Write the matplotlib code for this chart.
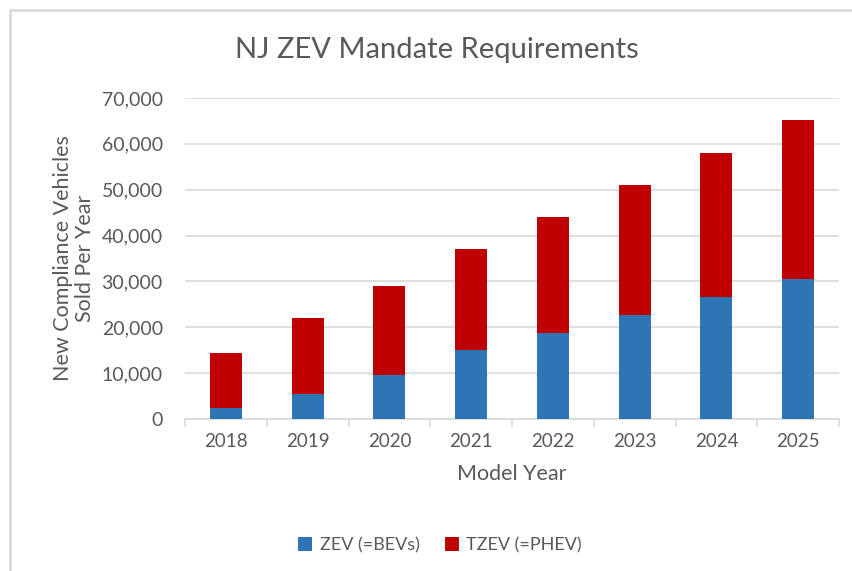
import matplotlib.pyplot as plt
import numpy as np
from matplotlib.patches import Rectangle

# data
years = ["2018", "2019", "2020", "2021", "2022", "2023", "2024", "2025"]
total = [14300, 22000, 28900, 37100, 44100, 51000, 58100, 65300]
zev = [2300, 5500, 9700, 15000, 18700, 22700, 26700, 30600]
tzev = [t - z for t, z in zip(total, zev)]

blue = "#2e75b6"
red = "#c00000"
txt = "#595959"
grid = "#d9d9d9"

plt.rcParams["font.family"] = ["Lato", "DejaVu Sans"]

fig = plt.figure(figsize=(8.52, 5.71), dpi=100)
# chart border (cut off on right/bottom like the screenshot)
fig.patches.append(Rectangle((10 / 852, -0.1), 1.2, 1 - 10 / 571 + 0.1,
                             transform=fig.transFigure, fill=False,
                             edgecolor=grid, linewidth=2))

ax = fig.add_axes([185 / 852, 1 - 419 / 571, 654 / 852, 321 / 571])
x = np.arange(len(years))
ax.bar(x, zev, width=0.39, color=blue, label="ZEV (=BEVs)", zorder=3)
ax.bar(x, tzev, width=0.39, bottom=zev, color=red, label="TZEV (=PHEV)", zorder=3)

ax.set_xlim(-0.5, len(years) - 0.5)
ax.set_ylim(0, 70000)
ax.set_yticks(range(0, 70001, 10000))
ax.set_yticklabels([f"{v:,}" for v in range(0, 70001, 10000)])
ax.yaxis.grid(True, color=grid, linewidth=1.2, zorder=0)
ax.tick_params(axis="y", length=0, pad=16, labelsize=14, labelcolor=txt)

ax.set_xticks(x)
ax.set_xticklabels(years)
ax.set_xticks(np.arange(-0.5, len(years)), minor=True)
ax.tick_params(axis="x", which="major", length=0, pad=10, labelsize=13.5, labelcolor=txt)
ax.tick_params(axis="x", which="minor", length=6, color=grid, width=1.2)

for s in ["top", "right", "left"]:
    ax.spines[s].set_visible(False)
ax.spines["bottom"].set_color(grid)
ax.spines["bottom"].set_linewidth(1.2)

ax.set_xlabel("Model Year", fontsize=15.5, color=txt, labelpad=10)
ax.set_ylabel("New Compliance Vehicles\nSold Per Year", fontsize=15.5, color=txt,
              linespacing=1.15)
ax.yaxis.set_label_coords(-0.137, 0.5)

fig.text(437 / 852, 1 - 50 / 571, "NJ ZEV Mandate Requirements", fontsize=21,
         color=txt, ha="center", va="center")

fig.legend(loc="center", bbox_to_anchor=(440 / 852, 1 - 545 / 571), ncol=2,
           frameon=False, fontsize=13, labelcolor=txt, handlelength=0.8,
           handleheight=0.8, handletextpad=0.4, columnspacing=1.4)

fig.savefig("out.png", dpi=100)
